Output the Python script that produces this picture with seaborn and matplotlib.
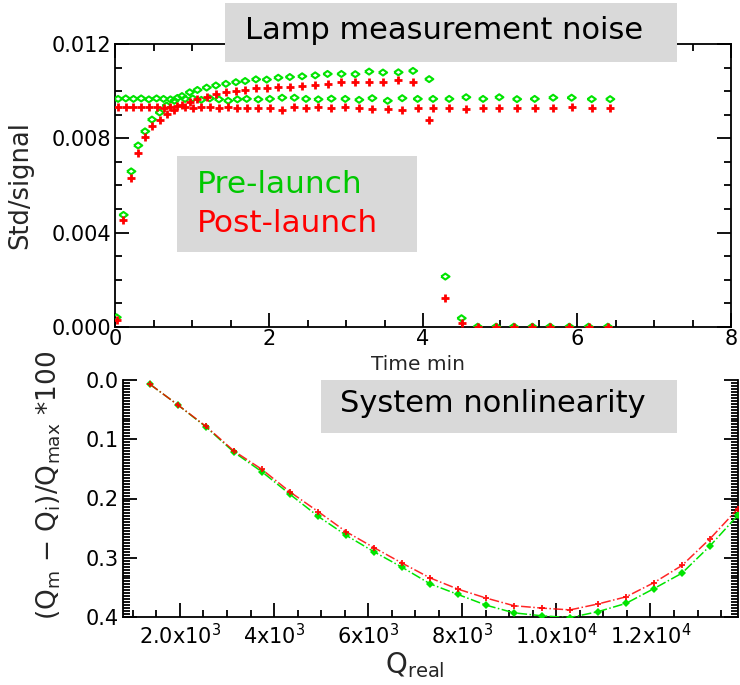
import matplotlib
matplotlib.use("Agg")
import matplotlib.pyplot as plt
from matplotlib.patches import Rectangle
from matplotlib.ticker import MultipleLocator, FixedLocator, FixedFormatter, FormatStrFormatter
import seaborn as sns

# ---------------- lamp measurement noise ----------------
# sequence A: stable lamp, sampled to ~6.4 min
time_a = [0.04, 0.14, 0.24, 0.34, 0.44, 0.54, 0.63, 0.72, 0.81, 0.91, 1.01, 1.12,
          1.23, 1.35, 1.47, 1.59, 1.71, 1.86, 2.01, 2.17, 2.33, 2.48, 2.64, 2.81,
          2.99, 3.17, 3.34, 3.54, 3.73, 3.93, 4.13, 4.34, 4.56, 4.78, 4.99, 5.22,
          5.45, 5.69, 5.93, 6.19, 6.43]
pre_a = [0.00968, 0.00970, 0.00968, 0.00970, 0.00966, 0.00970, 0.00968, 0.00966,
         0.00972, 0.00968, 0.00970, 0.00964, 0.00970, 0.00966, 0.00960, 0.00966,
         0.00968, 0.00966, 0.00968, 0.00973, 0.00973, 0.00968, 0.00966, 0.00969,
         0.00968, 0.00964, 0.00971, 0.00960, 0.00971, 0.00968, 0.00968, 0.00968,
         0.00975, 0.00968, 0.00975, 0.00967, 0.00968, 0.00973, 0.00973, 0.00967,
         0.00967]
post_a = [0.00932, 0.00932, 0.00932, 0.00932, 0.00932, 0.00932, 0.00930, 0.00934,
          0.00936, 0.00932, 0.00930, 0.00934, 0.00932, 0.00930, 0.00932, 0.00930,
          0.00928, 0.00930, 0.00928, 0.00921, 0.00932, 0.00930, 0.00932, 0.00930,
          0.00935, 0.00928, 0.00925, 0.00925, 0.00921, 0.00928, 0.00928, 0.00928,
          0.00926, 0.00928, 0.00928, 0.00928, 0.00928, 0.00931, 0.00935, 0.00928,
          0.00928]

# sequence B: lamp warm-up, switched off after ~4.1 min
time_b = [0.02, 0.11, 0.21, 0.30, 0.39, 0.48, 0.58, 0.67, 0.77, 0.87, 0.97, 1.07,
          1.19, 1.31, 1.44, 1.57, 1.69, 1.83, 1.97, 2.12, 2.27, 2.43, 2.60, 2.76,
          2.94, 3.12, 3.30, 3.48, 3.68, 3.87, 4.08, 4.29, 4.50, 4.71, 4.95, 5.18,
          5.42, 5.65, 5.90, 6.15, 6.40]
pre_b = [0.0004, 0.00475, 0.0066, 0.0077, 0.0083, 0.0088, 0.0091, 0.0094, 0.0096,
         0.0098, 0.00996, 0.01006, 0.01016, 0.01025, 0.01032, 0.01039, 0.01044,
         0.01051, 0.01050, 0.01058, 0.01061, 0.01064, 0.01068, 0.01074, 0.01074,
         0.01073, 0.01084, 0.01080, 0.01081, 0.01087, 0.01052, 0.00213, 0.00036,
         0.0, 0.0, 0.0, 0.0, 0.0, 0.0, 0.0, 0.0]
post_b = [0.0003, 0.00453, 0.00633, 0.0074, 0.00806, 0.00854, 0.00878, 0.00903,
          0.00921, 0.0094, 0.00956, 0.00966, 0.00977, 0.00988, 0.00996, 0.01002,
          0.01006, 0.01013, 0.01015, 0.0102, 0.0102, 0.01024, 0.01027, 0.01031,
          0.01039, 0.01041, 0.01041, 0.01039, 0.01048, 0.01041, 0.00878, 0.00123,
          0.00017, 0.0, 0.0, 0.0, 0.0, 0.0, 0.0, 0.0, 0.0]

# ---------------- system nonlinearity ----------------
q_real = [1360, 1955, 2550, 3150, 3745, 4340, 4935, 5530, 6125, 6720, 7315, 7910,
          8505, 9100, 9695, 10290, 10885, 11480, 12075, 12670, 13265, 13860]
nonlin_pre = [0.007, 0.042, 0.079, 0.122, 0.155, 0.193, 0.230, 0.262, 0.290, 0.316,
              0.344, 0.362, 0.380, 0.393, 0.398, 0.401, 0.391, 0.377, 0.352, 0.326,
              0.280, 0.228]
nonlin_post = [0.007, 0.042, 0.078, 0.120, 0.151, 0.189, 0.222, 0.256, 0.283, 0.309,
               0.334, 0.353, 0.368, 0.381, 0.385, 0.388, 0.378, 0.366, 0.342, 0.313,
               0.268, 0.217]

q_ticks = [2000, 4000, 6000, 8000, 10000, 12000]
q_tick_labels = [r"2.0x10$^{3}$", r"4x10$^{3}$", r"6x10$^{3}$", r"8x10$^{3}$",
                 r"1.0x10$^{4}$", r"1.2x10$^{4}$"]

GREEN = "#00e400"
GREEN_TEXT = "#00c800"
RED = "#ff0000"
BOX = "#d9d9d9"

sns.set_style("ticks")
plt.rcParams["font.family"] = ["DejaVu Sans"]
plt.rcParams["mathtext.default"] = "regular"

fig = plt.figure(figsize=(7.4, 6.85), dpi=100)
W, H = 740.0, 685.0


def fig_box(x0, y0, x1, y1):
    """Axes rectangle given in pixel edges measured from the top-left corner."""
    return [x0 / W, 1 - y1 / H, (x1 - x0) / W, (y1 - y0) / H]


diamond = [(-1.0, 0.0), (0.0, 0.72), (1.0, 0.0), (0.0, -0.72), (-1.0, 0.0)]

# ---------- top panel ----------
ax1 = fig.add_axes(fig_box(115, 44.3, 731, 326.7))
for t, v in ((time_a, pre_a), (time_b, pre_b)):
    sns.scatterplot(x=t, y=v, ax=ax1, marker=diamond, s=36, color=GREEN,
                    linewidth=1.5, zorder=3, legend=False)
    coll = ax1.collections[-1]
    coll.set_facecolor("none")
    coll.set_edgecolor(GREEN)
for t, v in ((time_a, post_a), (time_b, post_b)):
    sns.scatterplot(x=t, y=v, ax=ax1, marker="+", s=28, color=RED,
                    linewidth=2.0, zorder=4, legend=False)

ax1.set_xlim(0, 8)
ax1.set_ylim(0, 0.012)
ax1.xaxis.set_major_locator(MultipleLocator(2))
ax1.xaxis.set_minor_locator(MultipleLocator(0.5))
ax1.yaxis.set_major_locator(MultipleLocator(0.004))
ax1.yaxis.set_minor_locator(MultipleLocator(0.001))
ax1.yaxis.set_major_formatter(FormatStrFormatter("%.3f"))
ax1.tick_params(which="both", direction="in", top=True, right=True,
                labelsize=15, width=1.3, colors="black")
ax1.tick_params(which="major", length=10)
ax1.tick_params(which="minor", length=5)
ax1.tick_params(axis="x", pad=2)
ax1.tick_params(axis="y", pad=3)
for sp in ax1.spines.values():
    sp.set_linewidth(1.3)
    sp.set_color("black")
ax1.set_ylabel("Std/signal", fontsize=18.5)
ax1.yaxis.set_label_coords(-0.133, 0.5)
ax1.set_xlabel("Time min", fontsize=14.5, va="top")
ax1.xaxis.set_label_coords(0.492, -0.099)

# ---------- bottom panel ----------
ax2 = fig.add_axes(fig_box(123, 380, 738, 617))
sns.lineplot(x=q_real, y=nonlin_pre, ax=ax2, color=GREEN, marker="D", markersize=4,
             markeredgewidth=0, linewidth=1.1, linestyle="-.", estimator=None,
             zorder=3, legend=False)
sns.lineplot(x=q_real, y=nonlin_post, ax=ax2, color=RED, marker="P", markersize=5,
             markeredgewidth=0, linewidth=1.1, linestyle="-.", estimator=None,
             zorder=4, legend=False, alpha=0.85)
ax2.set_xlim(790, 13860)
ax2.set_ylim(0.4, 0.0)
ax2.xaxis.set_major_locator(FixedLocator(q_ticks))
ax2.xaxis.set_major_formatter(FixedFormatter(q_tick_labels))
ax2.xaxis.set_minor_locator(MultipleLocator(500))
ax2.yaxis.set_major_locator(MultipleLocator(0.1))
ax2.yaxis.set_minor_locator(MultipleLocator(0.005))
ax2.yaxis.set_major_formatter(FormatStrFormatter("%.1f"))
ax2.spines["top"].set_visible(False)
ax2.tick_params(which="both", direction="in", top=False, right=True,
                labelsize=15, width=1.3, colors="black")
ax2.tick_params(which="major", length=10)
ax2.tick_params(which="minor", length=5)
ax2.tick_params(axis="x", pad=4)
ax2.tick_params(axis="y", pad=3)
for sp in ax2.spines.values():
    sp.set_linewidth(1.3)
    sp.set_color("black")
ax2.set_ylabel(r"(Q$_m$ $-$ Q$_i$)/Q$_{max}$ *100", fontsize=19)
ax2.yaxis.set_label_coords(-0.098, 0.557)
ax2.set_xlabel(r"Q$_{real}$", fontsize=20, va="top")
ax2.xaxis.set_label_coords(0.475, -0.139)

# ---------- annotation boxes ----------
def px_rect(x0, y0, x1, y1):
    return Rectangle((x0 / W, 1 - y1 / H), (x1 - x0) / W, (y1 - y0) / H,
                     transform=fig.transFigure, facecolor=BOX, edgecolor="none",
                     zorder=5)


fig.patches.append(px_rect(225, 3, 677, 62))
fig.text(245 / W, 1 - 39 / H, "Lamp measurement noise", fontsize=22,
         color="black", ha="left", va="baseline", zorder=6)

fig.patches.append(px_rect(177, 156, 417, 252))
fig.text(197 / W, 1 - 193 / H, "Pre-launch", fontsize=22.5, color=GREEN_TEXT,
         ha="left", va="baseline", zorder=6)
fig.text(197 / W, 1 - 232 / H, "Post-launch", fontsize=22.5, color=RED,
         ha="left", va="baseline", zorder=6)

fig.patches.append(px_rect(321, 380, 677, 433))
fig.text(340 / W, 1 - 412 / H, "System nonlinearity", fontsize=22,
         color="black", ha="left", va="baseline", zorder=6)

fig.savefig("out.png", dpi=100)
